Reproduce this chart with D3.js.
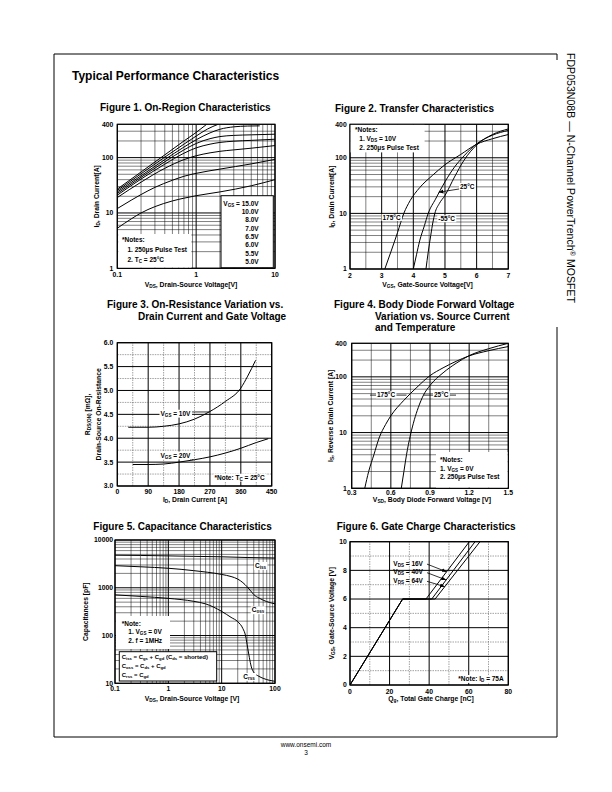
<!DOCTYPE html>
<html>
<head>
<meta charset="utf-8">
<script src="https://cdn.jsdelivr.net/npm/d3@7"></script>
<style>
  body { margin: 0; background: #fff; }
</style>
</head>
<body>
<div id="page"></div>
<script>
// ---------- data ----------

// Figure 1: On-Region Characteristics  [Vds (V), Id (A)]
const fig1Labels = ["15.0V", "10.0V", "8.0V", "7.0V", "6.5V", "6.0V", "5.5V", "5.0V"];
const fig1Vgs150 = [[0.1, 27], [0.2, 55], [0.4, 112], [0.7, 200], [1, 285], [1.36, 400]];
const fig1Vgs100 = [[0.1, 25.5], [0.2, 51], [0.4, 102], [0.7, 175], [1, 245], [1.4, 330], [1.9, 400]];
const fig1Vgs80 = [[0.1, 24], [0.2, 47], [0.4, 92], [0.7, 155], [1, 210], [1.5, 280], [2, 325], [3, 360], [4.5, 372], [6.4, 375]];
const fig1Vgs70 = [[0.1, 22.5], [0.2, 44], [0.4, 84], [0.7, 138], [1, 180], [1.5, 220], [2, 240], [3, 252], [5, 258], [10, 265]];
const fig1Vgs65 = [[0.1, 21], [0.2, 41], [0.4, 76], [0.7, 120], [1, 150], [1.5, 175], [2, 188], [3, 198], [5, 205], [10, 215]];
const fig1Vgs60 = [[0.1, 19], [0.2, 36], [0.4, 64], [0.7, 92], [1, 108], [1.5, 122], [2, 130], [3, 138], [5, 148], [10, 165]];
const fig1Vgs55 = [[0.1, 12], [0.15, 17], [0.2, 21.5], [0.3, 29], [0.5, 39], [0.7, 46], [1, 52], [2, 62], [5, 77], [10, 93]];
const fig1Vgs50 = [[0.1, 5.3], [0.15, 7.8], [0.2, 10], [0.3, 13], [0.5, 16.5], [0.7, 18.5], [1, 20.5], [2, 24], [5, 31], [10, 40]];
const fig1XTicks = [0.1, 1, 10];
const fig1YTicks = [1, 10, 100, 400];

// Figure 2: Transfer Characteristics  [Vgs (V), Id (A)]
const fig2T175 = [[3.1, 1], [3.3, 2.1], [3.5, 4.5], [3.7, 10], [3.9, 17], [4.2, 29], [4.6, 48], [5, 75], [5.5, 115], [6, 175], [6.5, 220], [7, 262]];
const fig2T25 = [[4.0, 1], [4.1, 1.8], [4.2, 3.2], [4.35, 6], [4.47, 10], [4.7, 18], [5, 37], [5.3, 68], [5.6, 108], [6, 178], [6.5, 255], [7, 310]];
const fig2Tm55 = [[4.4, 1], [4.47, 2], [4.55, 4], [4.62, 7], [4.68, 10], [4.82, 15], [5, 21], [5.3, 45], [5.6, 90], [6, 170], [6.5, 262], [7, 330]];
const fig2XTicks = [2, 3, 4, 5, 6, 7];
const fig2YTicks = [1, 10, 100, 400];

// Figure 3: On-Resistance vs Drain Current  [Id (A), Rds(on) (mOhm)]
const fig3Vgs10 = [[32, 4.23], [90, 4.23], [135, 4.25], [180, 4.3], [225, 4.4], [270, 4.56], [315, 4.77], [360, 5.05], [380, 5.3], [403, 5.63]];
const fig3Vgs20 = [[45, 3.45], [90, 3.45], [135, 3.46], [180, 3.5], [225, 3.55], [270, 3.61], [315, 3.69], [360, 3.79], [405, 3.91], [440, 3.99]];
const fig3XTicks = [0, 90, 180, 270, 360, 450];
const fig3YTicks = [3.0, 3.5, 4.0, 4.5, 5.0, 5.5, 6.0];

// Figure 4: Body Diode Forward Voltage  [Vsd (V), Is (A)]
const fig4T175 = [[0.40, 1], [0.43, 2], [0.47, 4], [0.51, 8], [0.56, 14], [0.6, 20], [0.7, 38], [0.8, 65], [0.9, 105], [1.0, 145], [1.1, 190], [1.2, 238], [1.35, 295], [1.5, 350]];
const fig4T25 = [[0.68, 1], [0.70, 2], [0.72, 4], [0.75, 9], [0.78, 17], [0.81, 28], [0.85, 47], [0.9, 70], [1.0, 118], [1.1, 175], [1.2, 240], [1.35, 320], [1.5, 400]];
const fig4XTicks = [0.3, 0.6, 0.9, 1.2, 1.5];
const fig4YTicks = [1, 10, 100, 400];

// Figure 5: Capacitance Characteristics  [Vds (V), C (pF)]
const fig5Ciss = [[0.1, 4800], [0.3, 4750], [1, 4650], [3, 4550], [10, 4450], [30, 4300], [100, 4200]];
const fig5Coss = [[0.1, 2900], [0.3, 2750], [1, 2560], [3, 2280], [10, 1900], [15, 1720], [20, 1520], [25, 1280], [30, 1050], [35, 860], [40, 720], [50, 610], [60, 550], [80, 490], [100, 460]];
const fig5Crss = [[0.1, 710], [0.3, 660], [1, 600], [3, 520], [5, 460], [10, 320], [15, 240], [20, 195], [25, 140], [28, 100], [30, 65], [33, 35], [36, 22], [40, 17], [50, 14], [60, 12.7], [80, 11.5], [100, 11]];
const fig5XTicks = [0.1, 1, 10, 100];
const fig5YTicks = [10, 100, 1000, 10000];

// Figure 6: Gate Charge  [Qg (nC), Vgs (V)]
const fig6Labels = ["16V", "40V", "64V"];
const fig6Vds16 = [[0, 0], [26.6, 6], [38.4, 6], [60.3, 10]];
const fig6Vds40 = [[0, 0], [26.6, 6], [41.3, 6], [63.2, 10]];
const fig6Vds64 = [[0, 0], [26.6, 6], [43, 6], [65.7, 10]];
const fig6XTicks = [0, 20, 40, 60, 80];
const fig6YTicks = [0, 2, 4, 6, 8, 10];

// ---------- drawing ----------
const FONT = '"Liberation Sans", Arial, Helvetica, sans-serif';

const svg = d3.select("#page").append("svg")
    .attr("width", 612)
    .attr("height", 792)
    .attr("font-family", FONT);

const defs = svg.append("defs");
defs.append("marker")
    .attr("id", "arrow")
    .attr("viewBox", "0 0 10 10")
    .attr("refX", 10).attr("refY", 5)
    .attr("markerWidth", 6).attr("markerHeight", 6)
    .attr("orient", "auto")
  .append("path")
    .attr("d", "M0,1 L10,5 L0,9 z")
    .attr("fill", "#000");

// text with _{sub} and ^{sup} parts
function rich(sel, str) {
  const re = /([_^])\{([^}]*)\}/g;
  let last = 0, m;
  while ((m = re.exec(str))) {
    if (m.index > last) sel.append("tspan").text(str.slice(last, m.index));
    sel.append("tspan")
       .attr("baseline-shift", m[1] === "_" ? "-18%" : "35%")
       .attr("font-size", "70%")
       .text(m[2]);
    last = re.lastIndex;
  }
  if (last < str.length) sel.append("tspan").text(str.slice(last));
  return sel;
}

function label(g, x, y, str, o) {
  o = o || {};
  const t = g.append("text")
      .attr("x", x).attr("y", y)
      .attr("font-size", o.size || 6.5)
      .attr("font-weight", o.weight || "bold")
      .attr("text-anchor", o.anchor || "start");
  rich(t, str);
  if (o.bg) {
    const b = t.node().getBBox();
    g.insert("rect", () => t.node())
     .attr("x", b.x - 1).attr("y", b.y)
     .attr("width", b.width + 2).attr("height", b.height)
     .attr("fill", "#fff");
  }
  return t;
}

const isDecade = d => Math.abs(Math.log10(d) - Math.round(Math.log10(d))) < 1e-6;

function panel(p) {
  const g = svg.append("g");
  const [xa, xb] = p.x.range();
  const [ya, yb] = p.y.range();

  defs.append("clipPath").attr("id", "clip" + p.id)
    .append("rect")
      .attr("x", xa).attr("y", yb)
      .attr("width", xb - xa).attr("height", ya - yb);

  const gridStyle = (sel, major) => sel
      .attr("stroke", d => major(d) ? "#000" : (p.minorColor || "#000"))
      .attr("stroke-width", d => major(d) ? 1 : 0.5)
      .attr("stroke-dasharray", d => major(d) ? null : p.minorDash);

  g.selectAll(".vg").data(p.xGrid).enter().append("line")
      .attr("x1", d => p.x(d)).attr("x2", d => p.x(d))
      .attr("y1", ya).attr("y2", yb)
      .call(gridStyle, p.xMajor);

  g.selectAll(".hg").data(p.yGrid).enter().append("line")
      .attr("x1", xa).attr("x2", xb)
      .attr("y1", d => p.y(d)).attr("y2", d => p.y(d))
      .call(gridStyle, p.yMajor);

  g.append("rect")
      .attr("x", xa).attr("y", yb)
      .attr("width", xb - xa).attr("height", ya - yb)
      .attr("fill", "none").attr("stroke", "#000").attr("stroke-width", 1.2);

  g.selectAll(".yt").data(p.yTicks).enter().append("text")
      .attr("x", xa - (p.yTickGap || 3.5))
      .attr("y", d => p.y(d) + 2.4)
      .attr("text-anchor", "end")
      .attr("font-size", 6.8).attr("font-weight", "bold")
      .text(p.yFormat);

  g.selectAll(".xt").data(p.xTicks).enter().append("text")
      .attr("x", d => p.x(d))
      .attr("y", ya + (p.xTickGap || 8.5))
      .attr("text-anchor", "middle")
      .attr("font-size", 6.8).attr("font-weight", "bold")
      .text(p.xFormat);

  // axis titles
  label(g, p.xLabelX, p.xLabelY, p.xLabel, { size: 6.8, anchor: "middle" });
  p.yLabel.forEach((s, i) => {
    label(g, 0, 0, s, { size: 6.8, anchor: "middle" })
      .attr("transform", `translate(${p.yLabelX[i]},${(ya + yb) / 2}) rotate(-90)`);
  });

  // figure title
  p.title.forEach((s, i) => {
    label(g, p.titleX[i], p.titleY + i * 11.5, s, { size: 10 });
  });

  const line = d3.line()
      .x(d => p.x(d[0]))
      .y(d => p.y(d[1]))
      .curve(p.curve || d3.curveMonotoneX);

  g.append("g").attr("clip-path", `url(#clip${p.id})`)
    .selectAll("path").data(p.curves).enter().append("path")
      .attr("d", line)
      .attr("fill", "none")
      .attr("stroke", "#000")
      .attr("stroke-width", 1);

  return g;
}

// page frame and side title
svg.append("path")
    .attr("d", "M557,60 V54 H54 V737 H557 V327")
    .attr("fill", "none").attr("stroke", "#000").attr("stroke-width", 1);

rich(svg.append("text")
    .attr("transform", "translate(566.5,53) rotate(90)")
    .attr("font-size", 11.5)
    .attr("textLength", 250)
    .attr("lengthAdjust", "spacingAndGlyphs"),
  "FDP053N08B \u2014 N-Channel PowerTrench^{\u00ae} MOSFET");

label(svg, 72, 80, "Typical Performance Characteristics", { size: 12 });

label(svg, 306, 747, "www.onsemi.com", { size: 6.5, weight: "normal", anchor: "middle" });
label(svg, 306, 755, "3", { size: 6.5, weight: "normal", anchor: "middle" });

// ---- Figure 1 ----
const x1 = d3.scaleLog().domain([0.1, 10]).range([117.3, 275]);
const y1 = d3.scaleLog().domain([1, 400]).range([268.3, 124.3]);
const g1 = panel({
  id: 1, x: x1, y: y1,
  xGrid: x1.ticks(), yGrid: y1.ticks(), xMajor: isDecade, yMajor: isDecade,
  xTicks: fig1XTicks, yTicks: fig1YTicks, xFormat: d => String(d), yFormat: d => String(d),
  yTickGap: 4, xTickGap: 8.5,
  curves: [fig1Vgs150, fig1Vgs100, fig1Vgs80, fig1Vgs70, fig1Vgs65, fig1Vgs60, fig1Vgs55, fig1Vgs50],
  xLabel: "V_{DS}, Drain-Source Voltage[V]", xLabelX: 191, xLabelY: 286.5,
  yLabel: ["I_{D}, Drain Current[A]"], yLabelX: [99],
  title: ["Figure 1. On-Region Characteristics"], titleX: [100], titleY: 111
});
g1.append("rect").attr("x", 221).attr("y", 195.7).attr("width", 52.3).attr("height", 72)
    .attr("fill", "#fff").attr("stroke", "#000").attr("stroke-width", 1);
fig1Labels.forEach((s, i) => {
  label(g1, 258.7, 205.6 + i * 8.35, i === 0 ? "V_{GS} = " + s : s, { anchor: "end" });
});
g1.append("rect").attr("x", 118.3).attr("y", 234).attr("width", 73).attr("height", 33.5).attr("fill", "#fff");
label(g1, 122, 242.3, "*Notes:");
label(g1, 127.5, 251.5, "1. 250\u03bcs Pulse Test");
label(g1, 127.5, 261.5, "2. T_{C} = 25\u00b0C");

// ---- Figure 2 ----
const x2 = d3.scaleLinear().domain([2, 7]).range([350, 508.3]);
const y2 = d3.scaleLog().domain([1, 400]).range([269, 124.3]);
const g2 = panel({
  id: 2, x: x2, y: y2,
  xGrid: d3.range(2, 7.01, 0.5), yGrid: y2.ticks(),
  xMajor: d => Number.isInteger(d), yMajor: isDecade,
  xTicks: fig2XTicks, yTicks: fig2YTicks, xFormat: d => String(d), yFormat: d => String(d),
  yTickGap: 3.3,
  curves: [fig2T175, fig2T25, fig2Tm55],
  xLabel: "V_{GS}, Gate-Source Voltage[V]", xLabelX: 427.5, xLabelY: 286.5,
  yLabel: ["I_{D}, Drain Current[A]"], yLabelX: [334],
  title: ["Figure 2. Transfer Characteristics"], titleX: [335], titleY: 112
});
g2.append("rect").attr("x", 350.6).attr("y", 124.9).attr("width", 74).attr("height", 27.5).attr("fill", "#fff");
label(g2, 355, 131.5, "*Notes:");
label(g2, 359.3, 140.5, "1. V_{DS} = 10V");
label(g2, 359.3, 149.5, "2. 250\u03bcs Pulse Test");
label(g2, 382.5, 220, "175\u00b0C", { bg: true });
label(g2, 438.3, 221.3, "-55\u00b0C", { bg: true });
label(g2, 460, 189, "25\u00b0C", { bg: true });
g2.append("line")
    .attr("x1", 459).attr("y1", 189)
    .attr("x2", x2(4.8)).attr("y2", y2(24))
    .attr("stroke", "#000").attr("stroke-width", 0.8)
    .attr("marker-end", "url(#arrow)");

// ---- Figure 3 ----
const x3 = d3.scaleLinear().domain([0, 450]).range([117.3, 271.7]);
const y3 = d3.scaleLinear().domain([3, 6]).range([486, 342.7]);
const g3 = panel({
  id: 3, x: x3, y: y3,
  xGrid: d3.range(0, 451, 45), yGrid: d3.range(3, 6.01, 0.25),
  xMajor: d => d % 90 === 0, yMajor: d => Math.abs(d * 2 - Math.round(d * 2)) < 1e-6,
  minorColor: "#444", minorDash: "1.5,1",
  xTicks: fig3XTicks, yTicks: fig3YTicks, xFormat: d => String(d), yFormat: d3.format(".1f"),
  yTickGap: 4, xTickGap: 7.8,
  curves: [fig3Vgs10, fig3Vgs20],
  xLabel: "I_{D}, Drain Current [A]", xLabelX: 195, xLabelY: 501.5,
  yLabel: ["R_{DS(ON)} [m\u03a9],", "Drain-Source On-Resistance"], yLabelX: [90, 101],
  title: ["Figure 3. On-Resistance Variation vs.", "Drain Current and Gate Voltage"], titleX: [107, 138], titleY: 308
});
g3.append("line").attr("x1", 190).attr("y1", y3(4.55)).attr("x2", x3(268)).attr("y2", y3(4.55))
    .attr("stroke", "#000").attr("stroke-width", 0.8);
g3.append("line").attr("x1", 190).attr("y1", y3(3.55)).attr("x2", x3(222)).attr("y2", y3(3.55))
    .attr("stroke", "#000").attr("stroke-width", 0.8);
label(g3, 160.5, 415.7, "V_{GS} = 10V", { bg: true });
label(g3, 160.5, 457.5, "V_{GS} = 20V", { bg: true });
label(g3, 214.5, 479.7, "*Note: T_{C} = 25\u00b0C", { bg: true });

// ---- Figure 4 ----
const x4 = d3.scaleLinear().domain([0.3, 1.5]).range([351.7, 508.3]);
const y4 = d3.scaleLog().domain([1, 400]).range([488.3, 343.3]);
const g4 = panel({
  id: 4, x: x4, y: y4,
  xGrid: d3.range(0, 9).map(i => 0.3 + i * 0.15), yGrid: y4.ticks(),
  xMajor: d => Math.abs(d / 0.3 - Math.round(d / 0.3)) < 1e-6, yMajor: isDecade,
  xTicks: fig4XTicks, yTicks: fig4YTicks, xFormat: d3.format(".1f"), yFormat: d => String(d),
  yTickGap: 5, xTickGap: 6.6,
  curves: [fig4T175, fig4T25],
  xLabel: "V_{SD}, Body Diode Forward Voltage [V]", xLabelX: 432, xLabelY: 502,
  yLabel: ["I_{S}, Reverse Drain Current [A]"], yLabelX: [333],
  title: ["Figure 4. Body Diode Forward Voltage", "Variation vs. Source Current", "and Temperature"],
  titleX: [334, 375, 375], titleY: 308
});
g4.append("line").attr("x1", 370).attr("y1", y4(47)).attr("x2", x4(0.72)).attr("y2", y4(47))
    .attr("stroke", "#000").attr("stroke-width", 0.8);
g4.append("line").attr("x1", x4(0.85)).attr("y1", y4(47)).attr("x2", 456).attr("y2", y4(47))
    .attr("stroke", "#000").attr("stroke-width", 0.8);
label(g4, 377, 397.3, "175\u00b0C", { bg: true });
label(g4, 434, 397.3, "25\u00b0C", { bg: true });
g4.append("rect").attr("x", 436).attr("y", 452).attr("width", 71.5).attr("height", 35.5).attr("fill", "#fff");
label(g4, 440, 462, "*Notes:");
label(g4, 440, 470.5, "1. V_{GS} = 0V");
label(g4, 440, 479, "2. 250\u03bcs Pulse Test");

// ---- Figure 5 ----
const x5 = d3.scaleLog().domain([0.1, 100]).range([115, 275]);
const y5 = d3.scaleLog().domain([10, 10000]).range([683.3, 540]);
const g5 = panel({
  id: 5, x: x5, y: y5,
  xGrid: x5.ticks(), yGrid: y5.ticks(), xMajor: isDecade, yMajor: isDecade,
  xTicks: fig5XTicks, yTicks: fig5YTicks, xFormat: d => String(d), yFormat: d => String(d),
  yTickGap: 2, xTickGap: 7.5,
  curves: [fig5Ciss, fig5Coss, fig5Crss],
  xLabel: "V_{DS}, Drain-Source Voltage [V]", xLabelX: 192, xLabelY: 701,
  yLabel: ["Capacitances [pF]"], yLabelX: [88],
  title: ["Figure 5. Capacitance Characteristics"], titleX: [93.3], titleY: 530
});
label(g5, 255, 568, "C_{iss}", { bg: true });
label(g5, 251.7, 612.3, "C_{oss}", { bg: true });
label(g5, 243.3, 679, "C_{rss}", { bg: true });
g5.append("rect").attr("x", 116).attr("y", 616).attr("width", 54).attr("height", 33).attr("fill", "#fff");
label(g5, 121.7, 625.5, "*Note:");
label(g5, 128.3, 634, "1. V_{GS} = 0V");
label(g5, 128.3, 643.3, "2. f = 1MHz");
g5.append("rect").attr("x", 119.3).attr("y", 651.7).attr("width", 97.4).attr("height", 29.3)
    .attr("fill", "#fff").attr("stroke", "#000").attr("stroke-width", 1);
label(g5, 121.7, 659, "C_{iss} = C_{gs} + C_{gd} (C_{ds} = shorted)", { size: 6 });
label(g5, 121.7, 668, "C_{oss} = C_{ds} + C_{gd}", { size: 6 });
label(g5, 121.7, 677.3, "C_{rss} = C_{gd}", { size: 6 });

// ---- Figure 6 ----
const x6 = d3.scaleLinear().domain([0, 80]).range([350, 508.3]);
const y6 = d3.scaleLinear().domain([0, 10]).range([685, 541.7]);
const g6 = panel({
  id: 6, x: x6, y: y6,
  xGrid: d3.range(0, 81, 10), yGrid: d3.range(0, 11, 1),
  xMajor: d => d % 20 === 0, yMajor: d => d % 2 === 0,
  minorColor: "#444", minorDash: "1.5,1",
  xTicks: fig6XTicks, yTicks: fig6YTicks, xFormat: d => String(d), yFormat: d => String(d),
  yTickGap: 3.3, xTickGap: 8.5,
  curve: d3.curveLinear,
  curves: [fig6Vds16, fig6Vds40, fig6Vds64],
  xLabel: "Q_{g}, Total Gate Charge [nC]", xLabelX: 431, xLabelY: 701,
  yLabel: ["V_{GS}, Gate-Source Voltage [V]"], yLabelX: [334],
  title: ["Figure 6. Gate Charge Characteristics"], titleX: [336.7], titleY: 530
});
const fig6Targets = [[48.8, 7.9], [48.6, 7.33], [47.9, 6.86]];
fig6Labels.forEach((s, i) => {
  const yy = 565.6 + i * 8.6;
  label(g6, 393.3, yy, "V_{DS} = " + s);
  g6.append("line")
      .attr("x1", 427).attr("y1", yy - 1.5)
      .attr("x2", x6(fig6Targets[i][0])).attr("y2", y6(fig6Targets[i][1]))
      .attr("stroke", "#000").attr("stroke-width", 0.8)
      .attr("marker-end", "url(#arrow)");
});
label(g6, 458.3, 681, "*Note: I_{D} = 75A", { bg: true });
</script>
</body>
</html>
